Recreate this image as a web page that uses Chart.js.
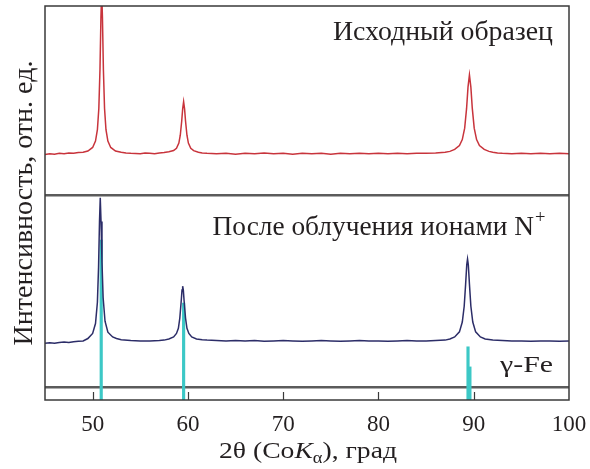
<!DOCTYPE html>
<html>
<head>
<meta charset="utf-8">
<script src="https://cdn.jsdelivr.net/npm/chart.js@4/dist/chart.umd.min.js"></script>
<style>
  html, body { margin: 0; padding: 0; background: #fff; }
</style>
</head>
<body>
<canvas id="xrdChart" width="590" height="469"></canvas>
<script>
// 2theta (deg) and intensity (arb. units) -- initial sample
const redAngle = [45.0, 45.5, 46.0, 46.5, 47.0, 47.5, 48.0, 48.5, 49.0, 49.5, 50.0, 50.3, 50.5, 50.65, 50.77, 50.87, 50.95,
  51.03, 51.13, 51.25, 51.4, 51.6, 51.9, 52.4, 53.0, 53.5, 54.0, 55.0, 55.5, 56.0, 56.5, 57.0, 57.5, 58.0, 58.5, 58.8,
  59.05, 59.2, 59.35, 59.45, 59.55, 59.65, 59.75, 59.9, 60.05, 60.3, 60.6, 61.1, 61.5, 62, 63, 64, 65, 66, 67, 68, 69,
  70, 71, 72, 73, 74, 75, 76, 77, 78, 79, 80, 81, 82, 83, 84, 85, 86, 87, 87.5, 88.0, 88.5, 88.8, 89.05, 89.25, 89.4,
  89.55, 89.7, 89.85, 90.05, 90.3, 90.6, 91.1, 91.6, 92, 92.5, 93, 94, 95, 96, 97, 98, 99, 100]
const redCounts = [2.3, 2.5, 2.4, 2.6, 2.5, 2.7, 2.6, 2.8, 2.9, 3.2, 4.1, 5.7, 8.6, 14.0, 23.8, 37.0, 43.6,
  37.0, 23.8, 14.0, 8.6, 5.7, 4.1, 3.2, 2.9, 2.7, 2.6, 2.5, 2.7, 2.6, 2.5, 2.7, 2.8, 3.0, 3.3, 3.9,
  5.2, 7.2, 10.8, 13.9, 15.7, 13.9, 10.8, 7.2, 5.2, 3.9, 3.3, 2.9, 2.7, 2.6, 2.5, 2.6, 2.4, 2.6, 2.5, 2.7, 2.5,
  2.6, 2.4, 2.6, 2.5, 2.6, 2.4, 2.6, 2.5, 2.6, 2.5, 2.6, 2.5, 2.6, 2.5, 2.6, 2.6, 2.7, 2.9, 3.1, 3.6, 4.6, 6.1, 9.0, 14.0, 19.4,
  22.5, 19.4, 14.0, 9.0, 6.1, 4.6, 3.6, 3.1, 2.9, 2.7, 2.6, 2.5, 2.6, 2.5, 2.6, 2.5, 2.6, 2.5]

// after N+ irradiation
const navyAngle = [45.0, 45.5, 46.0, 46.5, 47.0, 47.5, 48.0, 48.5, 49.0, 49.5, 50.0, 50.3, 50.5, 50.62, 50.72, 50.8,
  50.88, 50.98, 51.1, 51.3, 51.6, 52.1, 52.5, 53, 54, 55, 56, 57, 57.5, 58.0, 58.5, 58.8, 59.0, 59.15, 59.3, 59.38,
  59.45, 59.52, 59.6, 59.75, 59.9, 60.1, 60.4, 60.9, 61.5, 62, 63, 64, 65, 66, 67, 68, 69, 70, 71, 72, 73, 74, 75, 76,
  77, 78, 79, 80, 81, 82, 83, 84, 85, 86, 87, 87.5, 88.0, 88.5, 88.8, 89.0, 89.15, 89.27, 89.35, 89.43, 89.55, 89.7,
  89.9, 90.2, 90.7, 91.2, 92, 93, 94, 95, 96, 97, 98, 99, 100]
const navyCounts = [4.4, 4.5, 4.4, 4.6, 4.7, 4.6, 4.8, 4.9, 5.0, 5.6, 6.9, 9.4, 14.8, 23.6, 35.3, 41.3,
  35.3, 25.0, 16.0, 10.0, 7.2, 6.0, 5.6, 5.3, 5.1, 5.0, 5.0, 5.1, 5.2, 5.5, 6.0, 6.9, 8.2, 10.8, 15.2, 17.9,
  18.9, 17.9, 15.2, 10.8, 8.2, 6.9, 6.0, 5.5, 5.3, 5.2, 5.1, 5.0, 5.1, 5.0, 5.1, 4.9, 5.0, 5.1, 5.0, 4.9, 5.0, 5.1, 5.0, 4.9,
  5.0, 5.1, 5.0, 5.0, 4.9, 5.0, 5.1, 5.0, 5.0, 5.1, 5.2, 5.5, 6.0, 7.3, 9.8, 13.8, 19.4, 24.4, 25.8, 24.4, 19.4, 13.8,
  9.8, 7.3, 6.0, 5.5, 5.2, 5.1, 5.0, 5.0, 4.9, 5.0, 5.0, 4.9, 5.0]

// gamma-Fe reference lines
const feAngle = [50.9, 59.55, 89.4, 89.6]
const feHeight = [40.6, 24.6, 13.5, 8.4]

const xTicks = [50, 60, 70, 80, 90, 100]
const dividerLevels = [3.3, 52]

const TOP_SHIFT = 60
const BOT_SHIFT = 10
const SERIF = '"Liberation Serif", "Times New Roman", serif'
const INK = '#231f20'

const toPoints = (xs, ys, shift) => xs.map((x, i) => ({ x: x, y: ys[i] + shift }))

// text pieces squeezed/stretched to the width they have in the figure
function fitText(ctx, parts, left, baseline, width) {
  let total = 0
  for (const p of parts) { ctx.font = p.f; total += ctx.measureText(p.t).width + (p.gap || 0) }
  ctx.save()
  ctx.translate(left, baseline)
  ctx.scale(width / total, 1)
  let cx = 0
  for (const p of parts) {
    ctx.font = p.f
    cx += p.gap || 0
    ctx.fillText(p.t, cx, p.dy || 0)
    cx += ctx.measureText(p.t).width
  }
  ctx.restore()
}

// draws frame, inward ticks and the text labels
const decorations = {
  id: 'decorations',
  afterDraw(chart) {
    const ctx = chart.ctx
    const area = chart.chartArea
    const xs = chart.scales.x
    ctx.save()
    ctx.strokeStyle = '#3a3a3a'
    ctx.lineWidth = 1.5
    ctx.strokeRect(area.left, area.top, area.right - area.left, area.bottom - area.top)

    ctx.lineWidth = 1.2
    for (const v of xTicks) {
      if (v >= xs.max) continue
      const px = Math.round(xs.getPixelForValue(v)) + 0.5
      ctx.beginPath()
      ctx.moveTo(px, area.bottom)
      ctx.lineTo(px, area.bottom - 8)
      ctx.stroke()
    }

    ctx.fillStyle = INK
    ctx.textAlign = 'left'
    ctx.textBaseline = 'alphabetic'
    fitText(ctx, [{ t: 'Исходный образец', f: '26.5px ' + SERIF }], 333, 39.5, 220)
    fitText(ctx, [
      { t: 'После облучения ионами N', f: '26.5px ' + SERIF },
      { t: '+', f: '18px ' + SERIF, dy: -12, gap: 1 }
    ], 212.5, 235, 333)
    fitText(ctx, [{ t: 'γ-Fe', f: '24px ' + SERIF }], 500, 372, 53)
    fitText(ctx, [
      { t: '2θ (Co', f: '24px ' + SERIF },
      { t: 'K', f: 'italic 24px ' + SERIF },
      { t: 'α', f: '16px ' + SERIF, dy: 5 },
      { t: '), град', f: '24px ' + SERIF }
    ], 219, 458, 178)
    ctx.restore()
  }
}

const ctx = document.getElementById('xrdChart')
new Chart(ctx, {
  type: 'line',
  data: {
    datasets: [
      {
        label: 'Исходный образец',
        data: toPoints(redAngle, redCounts, TOP_SHIFT),
        borderColor: '#c8343c',
        borderWidth: 1.5,
        pointRadius: 0,
        tension: 0
      },
      {
        label: 'После облучения ионами N+',
        data: toPoints(navyAngle, navyCounts, BOT_SHIFT),
        borderColor: '#2c2d68',
        borderWidth: 1.5,
        pointRadius: 0,
        tension: 0
      },
      {
        type: 'bar',
        label: 'γ-Fe',
        data: feAngle.map((x, i) => ({ x: x, y: feHeight[i] })),
        backgroundColor: '#3cc8c6',
        barThickness: 2.5,
        grouped: false
      }
    ]
  },
  options: {
    responsive: false,
    animation: false,
    devicePixelRatio: 1,
    layout: { padding: { top: 6, right: 21, left: 0, bottom: 0 } },
    plugins: { legend: { display: false }, tooltip: { enabled: false } },
    scales: {
      x: {
        type: 'linear',
        min: 45,
        max: 100,
        offset: false,
        grid: { display: false, drawTicks: false },
        border: { display: false },
        afterBuildTicks: (s) => { s.ticks = xTicks.map(v => ({ value: v })) },
        ticks: { font: { family: SERIF, size: 23 }, color: INK, padding: 11, maxRotation: 0 },
        afterFit: (s) => { s.height = 69; s.paddingRight = 0; s.paddingLeft = 0 }
      },
      y: {
        min: 0,
        max: 100,
        z: 1,
        afterBuildTicks: (s) => { s.ticks = dividerLevels.map(v => ({ value: v })) },
        grid: { color: '#5b5b5b', lineWidth: 2.5, drawTicks: false },
        border: { display: false },
        ticks: { display: false },
        title: {
          display: true,
          text: 'Интенсивность, отн. ед.',
          font: { family: SERIF, size: 28 },
          color: INK,
          padding: { top: 8, bottom: 0 }
        },
        afterFit: (s) => { s.width = 45 }
      }
    }
  },
  plugins: [decorations]
})
</script>
</body>
</html>
